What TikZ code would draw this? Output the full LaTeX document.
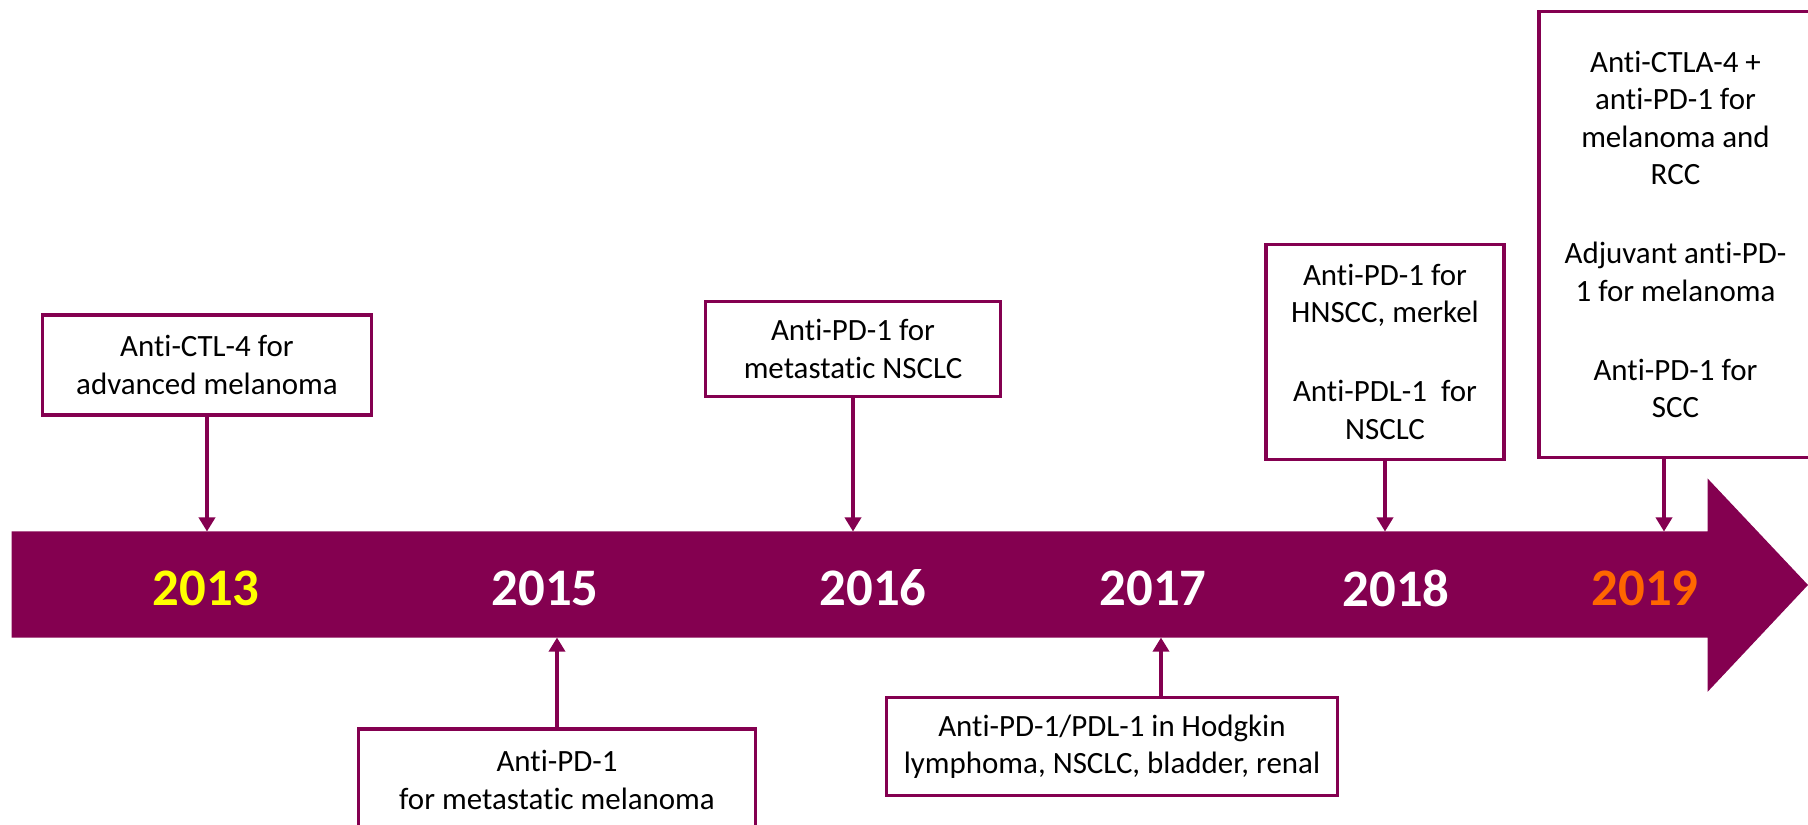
\documentclass[tikz,border=0pt]{standalone}
\usepackage{fontspec}
\setmainfont{Carlito}[Ligatures=NoCommon]
\usetikzlibrary{positioning,arrows.meta}
\definecolor{prune}{RGB}{132,0,80}
\definecolor{jaune}{RGB}{255,255,0}
\definecolor{orangev}{RGB}{255,102,0}

\begin{document}
\begin{tikzpicture}[x=0.01cm, y=-0.01cm,
  boite/.style 2 args={rectangle, draw=prune, line width=0.9pt, fill=white,
                   minimum width=#1, minimum height=#2, align=center, inner sep=0pt,
                   font=\fontsize{8.8}{10.6}\selectfont},
  annee/.style={text=#1, font=\fontsize{15}{18}\selectfont\bfseries},
  fl/.style={draw=prune, line width=0.9pt, -{Triangle[length=4pt,width=4.6pt]}}]
\useasboundingbox (0,0) rectangle (1808,825);
\begin{scope}
\clip (0,0) rectangle (1808,825);
% la fleche du temps
\fill[prune] (11.5,531.5) -- (1707.6,531.5) -- (1707.6,478.5) -- (1808,585)
  -- (1707.6,691.8) -- (1707.6,637.6) -- (11.5,637.6) -- cycle;
\node[annee=jaune] (y13) at (206,588) {2013};
\node[annee=white] (y15) at (545,588) {2015};
\node[annee=white] (y16) at (873,588) {2016};
\node[annee=white] (y17) at (1153,588) {2017};
\node[annee=white] (y18) at (1396,588) {2018};
\node[annee=orangev] (y19) at (1645,588) {2019};
% points d'arrivee sur la fleche
\coordinate (h13) at (207,531.5);
\coordinate (h16) at (853,531.5);
\coordinate (h18) at (1385,531.5);
\coordinate (h19) at (1664,531.5);
\coordinate (h15) at (557,637.6);
\coordinate (h17) at (1161,637.6);
% boites
\node[boite={3.29cm}{1.0cm}] (b13) at (207,365) {Anti-CTL-4 for\\ advanced melanoma};
\node[boite={3.96cm}{1.02cm}] (b15) at (557,780) {Anti-PD-1\\ for metastatic melanoma};
\node[boite={2.95cm}{0.95cm}] (b16) at (853,349) {Anti-PD-1 for\\ metastatic NSCLC};
\node[boite={4.51cm}{0.98cm}] (b17) at (1112,746.6) {Anti-PD-1/PDL-1 in Hodgkin\\ lymphoma, NSCLC, bladder, renal};
\node[boite={2.38cm}{2.15cm}] (b18) at (1385,351.7) {Anti-PD-1 for\\ HNSCC, merkel\\[12pt] Anti-PDL-1~ for\\ NSCLC};
\node[boite={2.73cm}{4.46cm}] (b19) at (1675.5,234.6) {Anti-CTLA-4 +\\ anti-PD-1 for\\ melanoma and\\ RCC\\[12pt] Adjuvant anti-PD-\\ 1 for melanoma\\[12pt] Anti-PD-1 for\\ SCC};
% fleches
\draw[fl] (b13.south) -- (h13);
\draw[fl] (b16.south) -- (h16);
\draw[fl] (b18.south) -- (h18);
\draw[fl] (b19.south -| h19) -- (h19);
\draw[fl] (b15.north) -- (h15);
\draw[fl] (b17.north -| h17) -- (h17);
\end{scope}
\end{tikzpicture}
\end{document}
